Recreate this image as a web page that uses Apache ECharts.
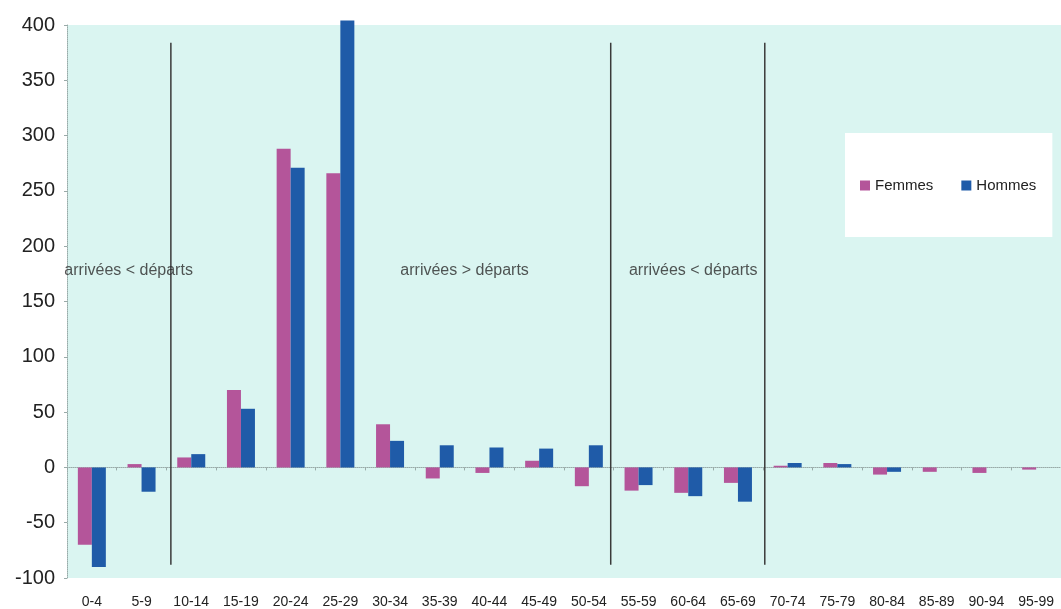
<!DOCTYPE html>
<html>
<head>
<meta charset="utf-8">
<script src="https://cdn.jsdelivr.net/npm/echarts@6/dist/echarts.min.js"></script>
<style>
html,body{margin:0;padding:0;background:#fff;}
#chart{width:1061px;height:609px;}
</style>
</head>
<body>
<div id="chart"></div>
<script>
const categories = ['0-4','5-9','10-14','15-19','20-24','25-29','30-34','35-39','40-44','45-49','50-54','55-59','60-64','65-69','70-74','75-79','80-84','85-89','90-94','95-99'];
const femmes = [-70, 3, 9, 70, 288, 266, 39, -10, -5, 6, -17, -21, -23, -14, 1.5, 4, -6.5, -4, -5, -2];
const hommes = [-90, -22, 12, 53, 271, 404, 24, 20, 18, 17, 20, -16, -26, -31, 4, 3, -4, 0, 0, 0];
const yTicks = {min: -100, max: 400, interval: 50};
// separator lines, in category units along the x axis
const separatorX = [2.09, 10.94, 14.04];
const separatorTop = 384;
const separatorBottom = -88;
// annotations
const annoText = ['arrivées < départs', 'arrivées > départs', 'arrivées < départs'];
const annoX = [1.24, 8.0, 12.6];
const annoY = 177.6;

const chart = echarts.init(document.getElementById('chart'), null, {renderer: 'canvas'});
const font = '"Liberation Sans", Arial, Helvetica, sans-serif';

const sepSeries = separatorX.map(x => ({
  type: 'line', xAxisIndex: 1, yAxisIndex: 0, silent: true,
  data: [[x, separatorTop], [x, separatorBottom]],
  symbol: 'none', lineStyle: {color: '#3a3a3a', width: 1.5}, z: 5
}));

chart.setOption({
  animation: false,
  textStyle: {fontFamily: font},
  grid: {left: 67, top: 25, width: 1004, height: 555.4, show: true, backgroundColor: '#daf5f1', borderWidth: 0, containLabel: false},
  legend: {
    data: ['Femmes', 'Hommes'],
    left: 845, top: 133,
    backgroundColor: '#ffffff',
    padding: [45, 16, 44, 15],
    itemWidth: 10, itemHeight: 10, itemGap: 28,
    icon: 'rect',
    textStyle: {fontSize: 15, color: '#222', fontFamily: font}
  },
  xAxis: [
    {
      type: 'category', data: categories, position: 'bottom',
      axisLine: {show: false, onZero: false}, axisTick: {show: false},
      axisLabel: {fontSize: 14, color: '#222', margin: 17, interval: 0, fontFamily: font},
      splitLine: {show: false}
    },
    {type: 'value', min: 0, max: 20, show: false, axisLine: {onZero: false}},
    {
      type: 'category', data: categories, position: 'bottom',
      axisLine: {show: true, onZero: true, lineStyle: {color: '#99aaa8', type: 'dotted', width: 1}},
      axisTick: {show: true, length: 3, lineStyle: {color: '#99aaa8'}},
      axisLabel: {show: false}, splitLine: {show: false}
    }
  ],
  yAxis: {
    type: 'value', min: yTicks.min, max: yTicks.max, interval: yTicks.interval,
    axisLine: {show: true, lineStyle: {color: '#99aaa8', type: 'dotted'}},
    axisTick: {show: true, length: 3, lineStyle: {color: '#99aaa8'}},
    axisLabel: {fontSize: 20, color: '#222', margin: 12, fontFamily: font},
    splitLine: {show: false}
  },
  series: [
    {name: 'Femmes', type: 'bar', data: femmes, barWidth: 14, barGap: '0%', clip: false, itemStyle: {color: '#b4559a'}},
    {name: 'Hommes', type: 'bar', data: hommes, barWidth: 14, barGap: '0%', clip: false, itemStyle: {color: '#1f5ba8'}},
    ...sepSeries,
    {
      type: 'scatter', xAxisIndex: 1, yAxisIndex: 0, silent: true,
      data: annoX.map((x, i) => ({value: [x, annoY], name: annoText[i]})),
      symbolSize: 1, itemStyle: {color: 'rgba(0,0,0,0)'},
      label: {show: true, position: 'inside', formatter: p => p.name, fontSize: 16, color: '#2a2a2a', fontFamily: font},
      z: 6
    }
  ]
});
</script>
</body>
</html>
